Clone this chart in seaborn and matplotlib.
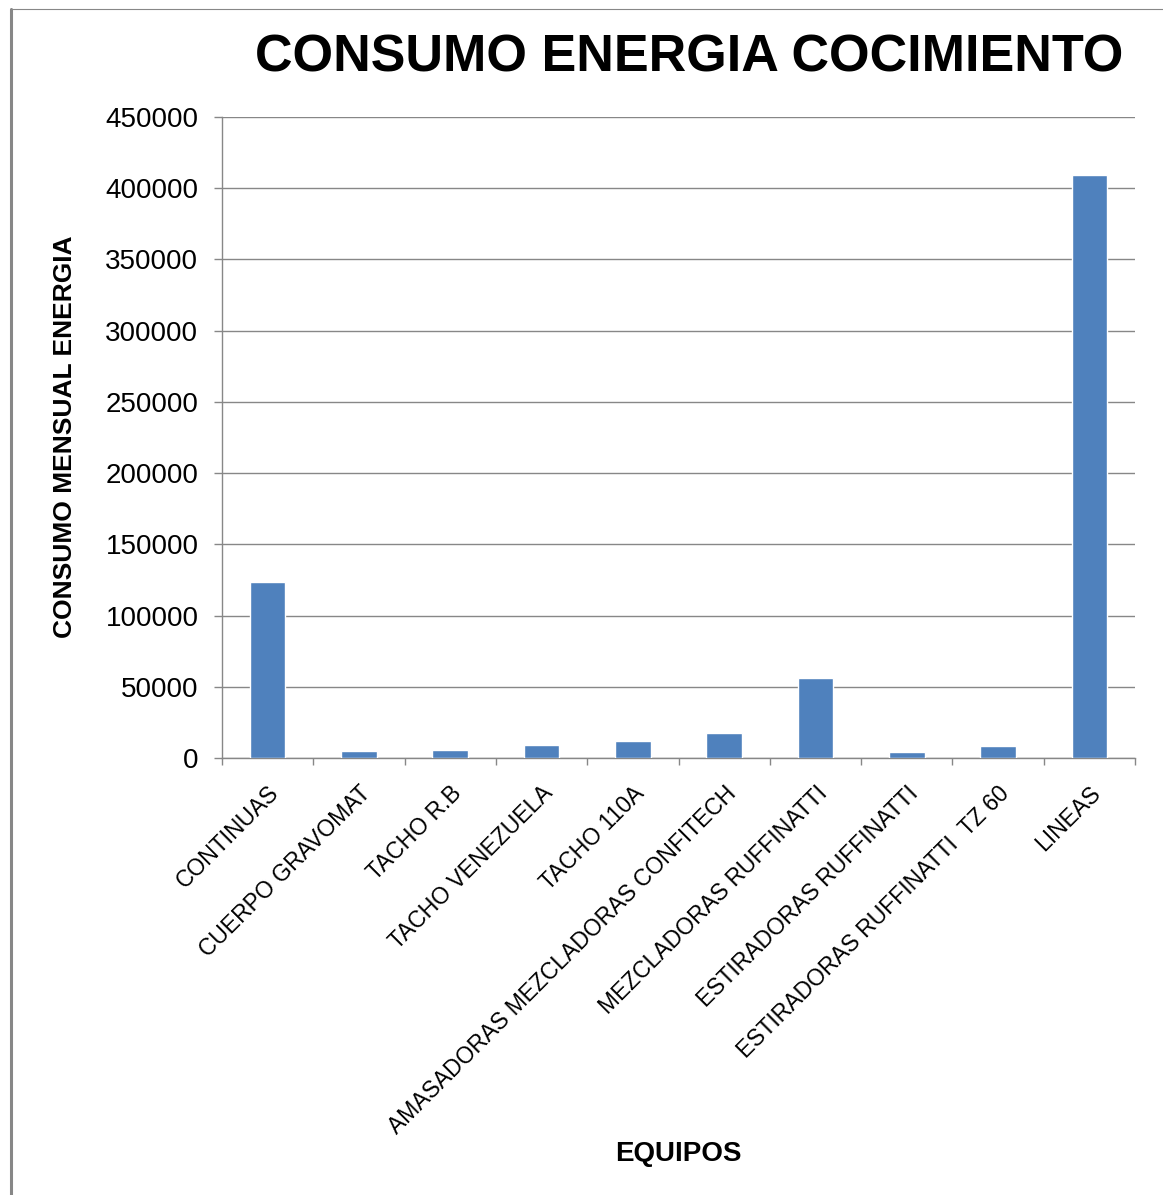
import matplotlib
matplotlib.use("Agg")
import matplotlib.pyplot as plt
from matplotlib.lines import Line2D
import seaborn as sns
import pandas as pd

categories = ["CONTINUAS", "CUERPO GRAVOMAT", "TACHO R.B", "TACHO VENEZUELA",
              "TACHO 110A", "AMASADORAS MEZCLADORAS CONFITECH",
              "MEZCLADORAS RUFFINATTI", "ESTIRADORAS RUFFINATTI",
              "ESTIRADORAS RUFFINATTI  TZ 60", "LINEAS"]
values = [123300, 5100, 5800, 9100, 12200, 17800, 56400, 4400, 8600, 409400]
yticks = [0, 50000, 100000, 150000, 200000, 250000, 300000, 350000, 400000, 450000]

sns.set_style("white")
plt.rcParams["font.family"] = ["Liberation Sans", "DejaVu Sans"]
plt.rcParams["text.color"] = "black"
plt.rcParams["xtick.color"] = "black"
plt.rcParams["ytick.color"] = "black"

W, H = 1163, 1195
fig = plt.figure(figsize=(W / 100, H / 100), dpi=100)
ax = fig.add_axes([222 / W, 1 - 758 / H, (1135 - 222) / W, (758 - 117) / H])

df = pd.DataFrame({"cat": categories, "val": values})
sns.barplot(data=df, x="cat", y="val", color="#4F81BD", width=0.39,
            saturation=1, ax=ax, zorder=3)

grid_c = "#878787"
ax.set_ylim(0, 450000)
ax.set_xlim(-0.5, len(categories) - 0.5)
ax.set_yticks(yticks)
ax.set_yticklabels([str(v) for v in yticks], fontsize=20, color="black")
ax.yaxis.grid(True, color=grid_c, linewidth=1.0, zorder=0)
ax.xaxis.grid(False)
ax.set_axisbelow(True)

ax.tick_params(axis="y", which="major", direction="out", length=6, width=1,
               color=grid_c, labelcolor="black", pad=11, left=True)
ax.set_xticks(range(len(categories)))
ax.set_xticklabels(categories, rotation=45, ha="right", rotation_mode="anchor",
                   fontsize=16.5, color="black")
ax.tick_params(axis="x", which="major", length=0, pad=17, labelcolor="black")
ax.set_xticks([i - 0.5 for i in range(len(categories) + 1)], minor=True)
ax.tick_params(axis="x", which="minor", direction="out", length=5, width=1,
               color=grid_c, bottom=True)

for s in ["top", "right"]:
    ax.spines[s].set_visible(False)
for s in ["left", "bottom"]:
    ax.spines[s].set_color(grid_c)
    ax.spines[s].set_linewidth(1.0)

ax.set_xlabel("")
ax.set_ylabel("")
fig.text(65 / W, 1 - 437 / H, "CONSUMO MENSUAL ENERGIA", rotation=90,
         fontsize=19, fontweight="bold", ha="center", va="center", color="black")
fig.text(678 / W, 1 - 1154 / H, "EQUIPOS", fontsize=20, fontweight="bold",
         ha="center", va="center", color="black")
fig.text(689 / W, 1 - 58 / H, "CONSUMO ENERGIA COCIMIENTO", fontsize=37.5,
         fontweight="bold", ha="center", va="center", color="black")

# outer frame
fig.add_artist(Line2D([10 / W, 1], [1 - 9 / H, 1 - 9 / H], color=grid_c,
                      linewidth=0.8, transform=fig.transFigure))
fig.add_artist(Line2D([11 / W, 11 / W], [0, 1 - 9 / H], color=grid_c,
                      linewidth=2.2, transform=fig.transFigure))

fig.savefig("out.png", dpi=100)
